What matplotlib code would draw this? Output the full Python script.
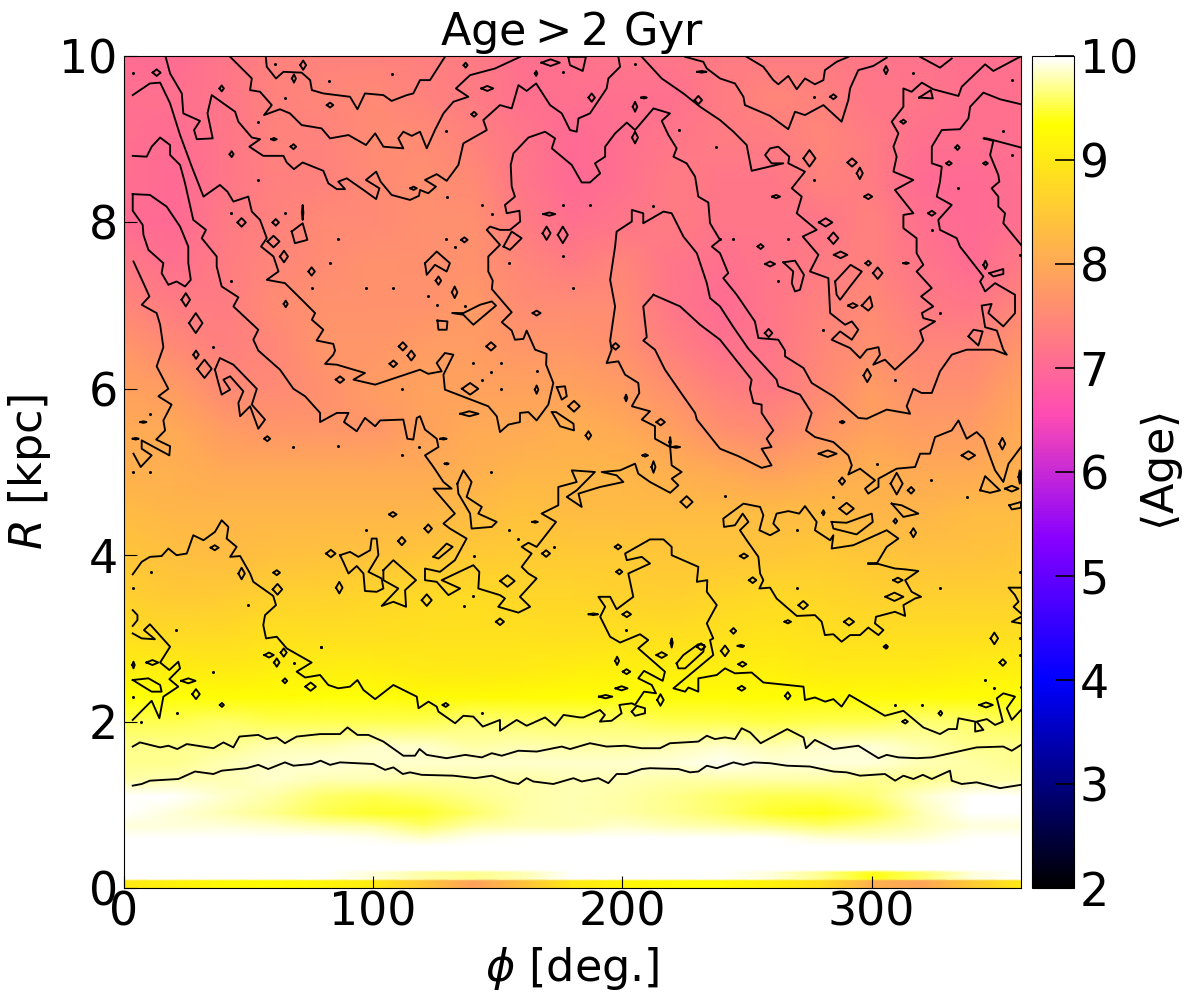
import numpy as np
import matplotlib
matplotlib.use("Agg")
import matplotlib.pyplot as plt

# mean age map
phi_cols = [0, 20, 40, 60, 80, 100, 120, 140, 160, 180, 200, 220, 240, 260, 280, 300, 320, 340, 360]
r_rows = [0, 0.09, 0.11, 0.19, 0.22, 0.5, 0.6, 0.75, 0.9, 1.1, 1.3, 1.5, 1.7, 2.0, 2.3, 2.6,
          3.0, 3.5, 4.0, 4.5, 5.0, 5.5, 6.0, 6.5, 7.0, 7.5, 8.0, 8.5, 9.0, 9.5, 10.0]
age = [
    [9.0, 9.15, 9.25, 9.3, 9.2, 9.05, 8.5, 7.9, 8.4, 9.0, 9.2, 9.25, 9.25, 9.15, 8.9, 8.1, 7.95, 8.5, 9.0],
    [9.0, 9.15, 9.25, 9.3, 9.2, 9.05, 8.5, 7.9, 8.4, 9.0, 9.2, 9.25, 9.25, 9.15, 8.9, 8.1, 7.95, 8.5, 9.0],
    [10, 10, 10, 10, 10, 9.9, 9.75, 9.7, 9.8, 10, 10, 10, 10, 9.9, 9.7, 9.4, 9.6, 9.9, 10],
    [10, 10, 10, 10, 10, 9.9, 9.75, 9.7, 9.8, 10, 10, 10, 10, 9.9, 9.7, 9.4, 9.6, 9.9, 10],
    [10, 10, 10, 10, 10, 10, 10, 10, 10, 10, 10, 10, 10, 10, 10, 10, 10, 10, 10],
    [10, 10, 10, 10, 10, 10, 10, 10, 10, 10, 10, 10, 10, 10, 10, 10, 10, 10, 10],
    [10, 10, 10, 10, 10, 9.95, 9.85, 9.95, 10, 10, 10, 10, 10, 10, 9.9, 9.85, 9.9, 10, 10],
    [9.9, 9.9, 9.9, 9.85, 9.8, 9.75, 9.6, 9.75, 9.8, 9.8, 9.85, 9.8, 9.75, 9.7, 9.6, 9.7, 9.8, 9.9, 9.9],
    [10, 9.9, 9.8, 9.7, 9.55, 9.45, 9.45, 9.6, 9.75, 9.8, 9.75, 9.7, 9.6, 9.45, 9.4, 9.5, 9.8, 10, 10],
    [10, 10, 9.85, 9.75, 9.6, 9.55, 9.6, 9.7, 9.75, 9.8, 9.75, 9.7, 9.6, 9.55, 9.55, 9.65, 9.85, 10, 10],
    [9.75, 9.8, 9.8, 9.85, 9.8, 9.8, 9.75, 9.75, 9.75, 9.8, 9.8, 9.75, 9.75, 9.75, 9.75, 9.7, 9.7, 9.75, 9.75],
    [9.7, 9.7, 9.8, 9.85, 9.9, 9.85, 9.85, 9.85, 9.85, 9.85, 9.85, 9.9, 9.95, 9.9, 9.9, 9.9, 9.8, 9.75, 9.7],
    [9.7, 9.7, 9.7, 9.8, 9.8, 9.85, 9.85, 9.75, 9.8, 9.75, 9.75, 9.8, 9.85, 9.8, 9.85, 9.9, 9.8, 9.7, 9.7],
    [9.55, 9.55, 9.6, 9.55, 9.55, 9.55, 9.55, 9.65, 9.6, 9.6, 9.6, 9.55, 9.55, 9.5, 9.55, 9.55, 9.65, 9.6, 9.55],
    [9.35, 9.35, 9.3, 9.3, 9.35, 9.35, 9.25, 9.25, 9.3, 9.3, 9.35, 9.3, 9.3, 9.3, 9.3, 9.25, 9.3, 9.3, 9.35],
    [9.1, 9.1, 9.05, 9.1, 9.1, 9.1, 9.05, 9.0, 9.05, 9.1, 9.15, 9.1, 9.1, 9.15, 9.05, 9.05, 9.05, 9.1, 9.1],
    [8.85, 8.8, 8.8, 8.9, 8.85, 8.85, 8.9, 8.9, 8.9, 8.85, 8.9, 8.85, 8.9, 8.95, 8.9, 8.85, 8.85, 8.85, 8.85],
    [8.6, 8.5, 8.55, 8.65, 8.65, 8.7, 8.75, 8.8, 8.7, 8.7, 8.65, 8.6, 8.7, 8.75, 8.7, 8.65, 8.6, 8.6, 8.6],
    [8.45, 8.35, 8.3, 8.35, 8.4, 8.4, 8.45, 8.5, 8.55, 8.5, 8.5, 8.45, 8.45, 8.45, 8.5, 8.45, 8.4, 8.4, 8.45],
    [8.3, 8.2, 8.2, 8.2, 8.2, 8.2, 8.2, 8.3, 8.4, 8.3, 8.3, 8.3, 8.3, 8.3, 8.3, 8.2, 8.2, 8.3, 8.3],
    [8.1, 8.1, 8.0, 8.0, 8.0, 8.0, 8.0, 8.1, 8.2, 8.2, 8.2, 8.1, 8.0, 7.9, 8.0, 8.1, 8.0, 8.0, 8.1],
    [8.0, 8.0, 7.8, 7.7, 7.7, 7.7, 7.9, 8.0, 8.0, 8.1, 8.0, 7.85, 7.6, 7.5, 7.7, 7.9, 7.8, 7.8, 8.0],
    [7.9, 7.8, 7.5, 7.5, 7.6, 7.8, 7.9, 7.9, 7.9, 7.9, 7.8, 7.6, 7.35, 7.25, 7.5, 7.8, 7.6, 7.6, 7.9],
    [7.7, 7.5, 7.35, 7.45, 7.7, 7.7, 7.8, 7.8, 7.7, 7.7, 7.6, 7.35, 7.15, 7.2, 7.45, 7.6, 7.45, 7.45, 7.7],
    [7.45, 7.3, 7.3, 7.55, 7.65, 7.65, 7.65, 7.75, 7.55, 7.55, 7.55, 7.2, 7.05, 7.2, 7.4, 7.5, 7.3, 7.2, 7.45],
    [7.25, 7.1, 7.3, 7.45, 7.55, 7.65, 7.6, 7.65, 7.45, 7.3, 7.45, 7.2, 7.1, 7.2, 7.3, 7.4, 7.2, 7.05, 7.25],
    [7.05, 7.0, 7.25, 7.4, 7.5, 7.5, 7.6, 7.6, 7.3, 7.1, 7.2, 7.3, 7.2, 7.2, 7.2, 7.4, 7.1, 7.0, 7.1],
    [7.1, 7.0, 7.2, 7.35, 7.4, 7.5, 7.6, 7.5, 7.2, 7.0, 7.1, 7.3, 7.2, 7.2, 7.4, 7.3, 7.05, 7.0, 7.1],
    [7.1, 7.05, 7.2, 7.4, 7.4, 7.55, 7.55, 7.4, 7.2, 7.0, 7.1, 7.2, 7.3, 7.3, 7.45, 7.3, 7.1, 7.1, 7.1],
    [7.1, 7.1, 7.2, 7.4, 7.45, 7.5, 7.4, 7.3, 7.1, 7.1, 7.1, 7.1, 7.3, 7.45, 7.4, 7.2, 7.2, 7.1, 7.1],
    [7.05, 7.05, 7.2, 7.4, 7.4, 7.4, 7.35, 7.3, 7.1, 7.15, 7.2, 7.2, 7.3, 7.3, 7.3, 7.2, 7.15, 7.1, 7.1],
]

# contour lines as (phi, R)
outer_line = [(3.5,9.53),(10.4,9.67),(14.5,9.68),(18.5,9.43),(22.5,9.05),(27.2,8.67),(31.9,8.31),(38.5,8.45),(41.5,8.37),(43.9,8.25),(49.9,8.31),(51.3,8.13),(54.6,8.03),(57.3,7.81),(55.0,7.71),(60.0,7.59),(62.0,7.41),(57.3,7.31),(64.6,7.27),(70.7,7.09),(76.7,6.91),(75.4,6.83),(80.0,6.71),(77.3,6.58),(84.0,6.54),(84.7,6.46),(84.0,6.41),(80.7,6.30),(85.4,6.29),(96.7,6.19),(92.1,6.11),(100.8,6.05),(118.8,6.23),(122.1,6.18),(127.5,6.21),(125.5,6.31),(128.8,6.43),(132.2,6.41),(128.2,6.17),(128.8,5.99),(137.5,5.89),(146.2,5.79),(149.6,5.67),(150.9,5.48),(154.3,5.57),(158.9,5.60),(158.9,5.71),(162.3,5.72),(165.6,5.62),(170.3,5.81),(172.3,6.07),(169.4,6.29),(169.6,6.42),(165.0,6.47),(161.6,6.70),(160.3,6.60),(156.9,6.59),(155.6,6.70),(151.6,6.80),(155.6,6.92),(147.6,7.20),(148.0,7.30),(146.2,7.41),(146.2,7.59),(150.9,7.73),(145.6,7.91),(146.9,7.95),(150.9,7.91),(154.9,7.91),(159.0,8.01),(158.7,8.14),(153.6,8.11),(152.9,8.21),(156.9,8.31),(155.6,8.43),(155.2,8.69),(156.3,8.83),(162.3,9.02),(169.0,9.09),(173.0,9.01),(171.7,8.89),(179.7,8.69),(183.7,8.48),(187.0,8.48),(191.1,8.59),(189.0,8.71),(193.1,8.79),(193.1,8.91),(197.1,9.07),(201.8,9.20),(205.1,9.11),(212.5,9.37),(219.1,9.31),(215.8,9.22),(218.5,9.05),(221.8,8.89),(220.5,8.79),(225.8,8.71),(229.2,8.55),(230.5,8.31),(234.5,8.24),(235.2,7.99),(239.2,7.79),(235.9,7.71),(239.2,7.63),(242.5,7.39),(240.5,7.33),(245.9,7.13),(253.2,6.81),(254.6,6.61),(262.6,6.59),(265.3,6.46),(265.3,6.39),(272.7,6.25),(276.0,6.07),(284.7,5.91),(294.7,5.65),(298.1,5.64),(306.1,5.75),(315.5,5.70),(314.1,5.79),(316.8,6.00),(320.1,5.95),(324.2,5.95),(327.5,6.21),(332.2,6.41),(338.2,6.47),(349,6.47),(354.3,6.41),(352.9,6.47),(350.3,6.70),(345.6,6.74),(344.2,7.0),(348.2,7.02),(346.9,6.91),(352.9,6.75),(357.6,6.91),(357.6,7.13),(349.6,7.27),(345.6,7.17),(343.6,7.29),(344.9,7.35),(335.5,7.71),(334.2,7.81),(327.5,7.91),(326.8,8.03),(332.2,8.21),(326.2,8.31),(327.5,8.49),(328.2,8.67),(324.2,8.71),(324.2,8.91),(328.2,9.11),(335.5,9.12),(338.9,9.25),(339.6,9.39),(344.9,9.56),(351.6,9.48),(360,9.42)]
mid_line = [(3.5,8.80),(9.1,8.79),(11.1,8.91),(14.5,9.02),(18.5,8.93),(18.5,8.81),(22.5,8.69),(24.5,8.47),(27.8,8.03),(32.9,7.91),(31.2,7.81),(37.2,7.59),(37.2,7.47),(39.2,7.23),(45.9,7.10),(43.9,6.99),(53.9,6.71),(51.9,6.59),(53.9,6.46),(62.6,6.23),(68.0,6.0),(72.7,5.91),(78.7,5.71),(78.7,5.60),(85.4,5.71),(90.1,5.71),(88.3,5.60),(93.4,5.49),(96.7,5.65),(100.8,5.55),(102.8,5.62),(112.1,5.63),(113.7,5.40),(116.1,5.39),(117.5,5.65),(118.8,5.67),(120.8,5.51),(125.5,5.40),(126.2,5.30),(120.8,5.20),(124.2,5.06),(128.2,4.88),(131.5,4.80),(124.2,4.80),(132.8,4.50),(128.2,4.38),(130.8,4.32),(137.5,4.20),(132.8,3.94),(126.8,3.80),(120.8,3.84),(120.8,3.70),(125.5,3.68),(130.2,3.52),(134.9,3.60),(127.5,3.70),(140.2,3.88),(142.6,3.80),(142.2,3.60),(150.9,3.52),(152.9,3.48),(150.2,3.38),(158.3,3.31),(163.0,3.38),(158.9,3.50),(165.6,3.72),(162.3,3.78),(159.6,3.86),(163.6,4.02),(159.6,4.10),(162.3,4.15),(165.6,4.10),(173.4,4.40),(167.6,4.50),(174.3,4.60),(174.3,4.82),(181.7,4.88),(179.7,5.02),(189.0,5.0),(181.7,4.78),(177.7,4.70),(183.7,4.58),(182.4,4.74),(191.1,4.82),(200.4,4.88),(197.7,4.96),(191.7,5.0),(199.1,5.02),(205.1,5.10),(206.4,4.98),(211.1,4.88),(219.2,4.75),(222.5,4.84),(219.8,4.92),(223.8,5.0),(219.8,5.08),(219.2,5.30),(213.1,5.40),(213.1,5.55),(207.8,5.63),(211.1,5.73),(203.8,5.79),(206.8,5.95),(206.4,6.07),(201.1,6.17),(198.4,6.33),(193.7,6.31),(195.7,6.47),(195.1,6.58),(197.1,6.99),(195.1,7.31),(197.1,7.71),(197.7,7.89),(203.8,8.01),(203.8,8.15),(208.4,8.11),(208.4,7.99),(216.5,8.13),(219.8,8.11),(224.5,7.83),(229.9,7.63),(233.9,7.27),(235.2,7.09),(239.2,6.99),(244.6,6.74),(250.6,6.48),(261.9,6.11),(262.6,6.03),(271.3,5.93),(276.0,5.71),(273.7,5.50),(277.3,5.42),(284.7,5.36),(290.7,5.20),(292.1,5.08),(290.7,4.97),(295.4,5.04),(301.4,4.90),(297.4,4.80),(298.7,4.74),(302.8,4.82),(302.8,4.92),(310.1,5.04),(317.5,5.06),(319.5,5.22),(323.5,5.22),(325.5,5.42),(332.2,5.50),(334.9,5.62),(338.2,5.40),(342.2,5.48),(344.9,5.40),(349.6,5.02),(352.9,4.88),(355.0,5.10),(360,5.30)]
top_line_a = [(16.7,9.99),(18.5,9.79),(23.2,9.55),(23.8,9.31),(30.5,9.22),(28.1,9.11),(29.2,9.0),(35.6,9.01),(33.5,9.31),(35.2,9.53),(44.6,9.33),(45.9,9.21),(51.3,9.02),(54.6,9.0),(50.3,8.91),(55.9,8.80),(64.0,8.80),(65.3,8.72),(68.2,8.64),(71.7,8.72),(80.0,8.62),(82.0,8.47),(85.4,8.40),(88.7,8.40),(86.0,8.49),(89.4,8.53),(96.1,8.39),(101.2,8.28),(102.5,8.41),(97.1,8.51),(101.2,8.61),(103.0,8.49),(107.4,8.33),(114.8,8.27),(118.4,8.32),(118.8,8.39),(122.1,8.35),(125.2,8.43),(120.8,8.51),(125.5,8.58),(129.5,8.50),(134.2,8.69),(136.2,8.95),(145.6,9.11),(144.2,9.23),(150.9,9.41),(155.6,9.37),(158.3,9.65),(161.6,9.58),(165.4,9.67),(171.0,9.41),(175.7,9.31),(179.0,9.11),(181.7,9.09),(182.4,9.25),(187.0,9.31),(193.7,9.61),(194.4,9.73),(199.1,9.87),(198.4,9.99)]
top_line_b = [(42.6,9.99),(51.3,9.73),(50.6,9.59),(54.6,9.57),(59.3,9.41),(56.2,9.29),(62.6,9.36),(66.6,9.31),(71.3,9.17),(79.3,9.13),(82.7,9.01),(90.1,9.05),(97.1,8.93),(100.8,9.07),(104.1,8.91),(112.1,8.89),(110.1,9.01),(112.1,9.09),(115.5,9.04),(118.8,9.09),(121.5,8.89),(124.8,9.11),(128.2,9.31),(132.2,9.45),(138.2,9.51),(133.2,9.61),(138.9,9.77),(148.9,9.85),(159,9.99)]
top_line_c = [(56.9,9.99),(57.3,9.87),(61.0,9.73),(64.0,9.81),(71.3,9.80),(74.7,9.71),(75.4,9.59),(80.0,9.55),(90.7,9.51),(93.7,9.36),(96.7,9.55),(104.1,9.53),(107.4,9.46),(113.5,9.53),(116.1,9.55),(118.8,9.71),(122.8,9.71),(128.8,9.99)]
top_line_d = [(225.2,9.99),(232.5,9.93),(233.9,9.85),(239.2,9.73),(245.2,9.67),(248.6,9.51),(249.2,9.41),(259.3,9.28),(266.6,9.12),(269.3,9.33),(273.3,9.29),(280.7,9.41),(288.0,9.21),(290.7,9.47),(291.4,9.61),(294.7,9.83),(300.7,9.88),(306.1,9.98)]
top_line_e = [(249.9,9.99),(256.6,9.87),(260.6,9.71),(262.6,9.66),(266.6,9.76),(270.0,9.60),(273.3,9.73),(277.3,9.66),(280.7,9.71),(281.3,9.83),(286.0,9.93),(290.7,9.99)]
top_line_f = [(319.5,9.99),(327.5,9.86),(332.2,9.97)]
center_line = [(207.8,9.99),(215.8,9.73),(224.5,9.55),(231.2,9.39),(239.2,9.23),(244.6,9.09),(249.9,8.93),(251.9,8.62),(264.6,8.71),(259.9,8.71),(257.3,8.81),(259.3,8.89),(262.6,8.91),(267.0,8.79),(266.6,8.71),(273.3,8.61),(268.0,8.41),(272.0,8.31),(270.0,8.11),(278.0,7.91),(272.4,7.83),(278.7,7.61),(275.3,7.41),(282.7,7.33),(283.4,6.91),(289.4,6.77),(292.1,6.81),(294.7,6.71),(292.1,6.59),(287.4,6.69),(284.0,6.59),(291.4,6.49),(295.4,6.37),(298.1,6.47),(302.8,6.50),(303.4,6.41),(300.7,6.29),(305.4,6.35),(309.4,6.23),(318.1,6.47),(320.8,6.58),(319.5,6.70),(325.5,6.81),(320.8,6.85),(320.2,6.91),(324.8,6.99),(319.9,7.11),(324.2,7.21),(318.1,7.41),(320.8,7.49),(318.1,7.63),(318.1,7.81),(312.8,7.93),(312.8,8.09),(316.8,8.11),(309.4,8.39),(316.8,8.51),(308.8,8.61),(310.1,8.79),(308.8,8.91),(310.8,9.07),(308.1,9.21),(312.8,9.39),(312.8,9.61),(316.1,9.57),(320.2,9.68),(324.8,9.60),(334.9,9.52),(336.2,9.63),(345.6,9.90),(348.9,9.82),(359.6,9.99)]
right_line = [(360,8.90),(346.2,9.01),(344.9,9.01),(348.9,8.98),(347.6,8.81),(350.9,8.57),(351.3,8.49),(348.2,8.41),(350.9,8.31),(350.9,8.19),(353.6,8.11),(352.9,7.99),(360,7.73)]
left_line = [(3.8,7.53),(7.8,7.27),(10.2,7.11),(7.1,7.01),(13.1,6.91),(14.5,6.77),(15.8,6.50),(13.1,6.27),(17.8,6.0),(13.8,5.91),(19.1,5.81),(15.8,5.62),(16.5,5.50),(12.9,5.39),(18.5,5.31),(18.2,5.20),(7.1,5.38),(7.1,5.28),(11.1,5.20),(6.7,5.06),(3.8,5.22)]
lower_line = [(3.5,3.77),(7.1,3.92),(10.4,3.98),(15.1,3.99),(17.8,4.08),(21.1,4.0),(25.2,4.02),(27.8,4.24),(31.9,4.18),(36.5,4.28),(39.2,4.42),(41.9,4.34),(41.2,4.20),(45.2,4.10),(42.6,3.98),(46.6,3.99),(50.6,3.78),(51.9,3.68),(59.9,3.51),(61.0,3.40),(56.6,3.28),(55.9,3.16),(57.0,3.0),(61.3,3.02),(65.3,2.88),(75.3,2.71),(69.3,2.60),(72.7,2.53),(78.7,2.56),(82.0,2.44),(86.0,2.40),(90.7,2.42),(93.7,2.50),(96.1,2.38),(100.8,2.27),(108.1,2.44),(117.5,2.30),(118.2,2.16),(122.2,2.24),(125.5,2.18),(126.2,2.12),(132.9,1.98),(136.2,2.07),(140.2,2.06),(144.0,1.94),(150.9,2.02),(150.9,1.89),(157.6,2.02),(161.6,1.95),(169.0,2.05),(173.0,1.95),(176.4,2.08),(183.0,2.05),(184.4,2.05),(191.0,2.14),(193.0,2.08),(191.0,2.0),(195.7,2.01),(199.7,2.10),(198.8,2.20),(203.8,2.22),(205.1,2.20),(208.7,2.36),(213.5,2.34),(211.8,2.44),(206.4,2.52),(208.7,2.61),(216.2,2.49),(217.1,2.60),(206.4,2.88),(210.4,2.98),(207.1,3.05),(199.1,2.95),(195.1,3.02),(191.1,3.26),(193.1,3.38),(190.4,3.50),(195.1,3.50),(197.7,3.35),(204.4,3.50),(202.4,3.78),(211.1,3.90),(207.8,3.98),(201.8,3.94),(201.1,4.02),(211.1,4.19),(216.5,4.19),(219.8,4.10),(219.8,4.0),(230.5,3.86),(229.9,3.68),(234.1,3.70),(233.9,3.56),(237.9,3.40),(233.9,3.18),(236.5,3.0),(235.2,2.98),(236.5,2.80),(220.5,2.40),(225.2,2.36),(226.5,2.41),(230.5,2.36),(230.5,2.52),(237.9,2.56),(241.2,2.64),(245.2,2.58),(251.9,2.59),(256.6,2.47),(272.7,2.42),(273.3,2.26),(277.3,2.29),(281.4,2.24),(284.7,2.27),(288.0,2.18),(291.1,2.32),(305.4,2.07),(312.8,2.13),(320.8,1.93),(327.5,1.85),(330.9,1.91),(334.2,1.91),(334.9,2.04),(341.6,2.0),(341.6,1.88),(344.9,1.90),(342.2,2.0),(346.3,2.03),(349.6,1.96),(352.7,2.0),(350.3,2.28),(352.9,2.34),(357.6,2.30),(354.3,2.16),(356.3,2.02),(360,2.14)]
edge_line_a = [(360,3.61),(355,3.61),(357.6,3.52),(359,3.44),(357,3.38),(360,3.30)]
edge_line_b = [(360,3.26),(356.3,3.20),(360,3.18)]
edge_line_c = [(3.5,3.34),(5.4,3.28),(5.4,3.22),(3.5,3.15)]
corner_line = [(3.5,3.06),(7.1,3.0),(12.4,2.99),(8.0,3.10),(10.4,3.17),(18.5,2.90),(14.5,2.71),(18.2,2.62),(21.8,2.72),(22.5,2.64),(18.2,2.51),(21.8,2.42),(15.8,2.30),(14.2,2.04),(11.1,2.25),(3.5,2.02)]
ring_upper = [(3.5,1.70),(6.4,1.75),(14.5,1.69),(17.8,1.71),(21.4,1.67),(25.2,1.73),(35.9,1.68),(39.9,1.75),(43.9,1.69),(46.3,1.82),(53.9,1.84),(57.3,1.79),(61.3,1.81),(64.6,1.74),(69.3,1.82),(78.7,1.85),(86.7,1.85),(89.7,1.93),(93.7,1.84),(98.1,1.84),(104.1,1.76),(112.1,1.59),(116.8,1.59),(118.6,1.67),(121.5,1.60),(129.5,1.56),(136.9,1.60),(143.6,1.57),(147.6,1.62),(151.6,1.59),(158.3,1.65),(165.7,1.64),(175.7,1.70),(179.0,1.67),(187.0,1.74),(193.7,1.70),(201.1,1.71),(207.8,1.68),(215.1,1.68),(219.1,1.74),(230.5,1.76),(233.9,1.83),(237.2,1.79),(241.2,1.81),(245.2,1.79),(247.9,1.92),(251.3,1.87),(255.5,1.74),(266.2,1.91),(272.7,1.81),(273.7,1.68),(277.3,1.78),(284.7,1.67),(294.7,1.71),(302.8,1.56),(306.1,1.60),(310.8,1.57),(318.2,1.56),(324.2,1.57),(330.2,1.61),(342.2,1.69),(352.9,1.70),(356.3,1.65),(360,1.72)]
ring_lower = [(3.5,1.23),(7.1,1.25),(10.4,1.29),(21.8,1.31),(28.5,1.40),(35.9,1.37),(39.2,1.41),(49.2,1.44),(53.9,1.48),(57.9,1.43),(64.6,1.51),(68.0,1.47),(75.3,1.49),(78.9,1.53),(82.7,1.48),(86.7,1.51),(100.1,1.49),(104.8,1.42),(108.1,1.45),(111.9,1.37),(114.8,1.39),(119.5,1.36),(132.2,1.35),(140.9,1.32),(147.6,1.35),(155.0,1.27),(158.3,1.25),(161.6,1.32),(164.3,1.28),(172.3,1.25),(180.4,1.32),(183.7,1.28),(190.4,1.32),(194.4,1.26),(197.7,1.37),(201.7,1.37),(207.8,1.43),(211.1,1.44),(222.5,1.43),(227.2,1.39),(230.5,1.40),(233.9,1.47),(237.9,1.44),(244.6,1.51),(248.6,1.48),(252.6,1.51),(259.3,1.50),(266.0,1.47),(275.3,1.46),(284.7,1.40),(290.1,1.39),(295.4,1.35),(305.4,1.37),(309.5,1.29),(312.8,1.35),(316.8,1.31),(320.6,1.36),(324.2,1.31),(331.5,1.41),(332.2,1.29),(336.2,1.25),(342.2,1.27),(351.6,1.20),(360,1.24)]
open_lines = [outer_line, mid_line, top_line_a, top_line_b, top_line_c, top_line_d, top_line_e, top_line_f,
              center_line, right_line, left_line, lower_line, edge_line_a, edge_line_b, edge_line_c,
              corner_line, ring_upper, ring_lower]

# closed contours
inner_arm = [(212.5,7.13),(223.2,6.99),(231.2,6.77),(239.2,6.59),(251.9,6.11),(251.2,6.0),(252.6,5.83),(255.9,5.81),(255.9,5.71),(260.6,5.50),(257.9,5.40),(259.9,5.30),(255.9,5.28),(257.9,5.18),(259.9,5.08),(255.9,5.05),(246.6,5.19),(239.2,5.28),(229.9,5.63),(229.2,5.71),(224.5,5.91),(217.1,6.23),(213.1,6.47),(208.4,6.58),(209.8,6.62),(208.4,6.99)]
left_arm = [(3.5,8.34),(10.4,8.33),(17.1,8.19),(22.5,7.95),(25.8,7.71),(25.8,7.51),(26.8,7.31),(24.5,7.23),(21.1,7.29),(17.8,7.25),(15.1,7.39),(15.8,7.51),(9.8,7.67),(7.8,7.85),(7.5,7.97),(3.5,8.14)]
lower_loop = [(298.7,3.90),(302.1,3.90),(306.1,4.10),(310.8,4.20),(306.1,4.30),(292.7,4.12),(284.0,4.08),(284.7,4.24),(283.4,4.18),(277.3,4.30),(278.0,4.40),(273.3,4.59),(271.0,4.50),(266.6,4.53),(261.9,4.50),(260.6,4.38),(263.0,4.30),(259.3,4.24),(255.0,4.30),(256.6,4.48),(255.3,4.58),(248.6,4.62),(240.5,4.44),(240.8,4.34),(245.2,4.36),(248.3,4.50),(250.6,4.40),(247.2,4.30),(249.9,4.18),(254.6,3.98),(255.3,3.78),(256.6,3.70),(255.0,3.60),(259.3,3.61),(261.9,3.48),(270.0,3.27),(277.3,3.28),(280.0,3.20),(281.3,3.04),(284.7,3.05),(288.0,2.96),(291.4,3.04),(295.4,3.04),(298.7,3.13),(302.8,3.04),(304.8,3.10),(301.4,3.18),(301.8,3.26),(309.4,3.32),(313.5,3.27),(312.8,3.40),(317.5,3.48),(319.9,3.50),(316.1,3.56),(313.5,3.70),(318.8,3.81),(313.5,3.83),(309.4,3.84),(302.1,3.90)]
blob_a = [(67.3,7.89),(71.7,7.99),(73.6,7.79),(68.6,7.75)]
blob_b = [(178.3,9.99),(185.4,9.99),(184.1,9.82),(179,9.89)]
blob_c = [(152.3,7.71),(155.6,7.89),(159.6,7.81),(154.9,7.67)]
blob_d = [(120.8,7.51),(125.5,7.65),(130.8,7.51),(129.5,7.41),(124.8,7.49),(121.5,7.37)]
blob_e = [(131.9,6.91),(136.2,6.91),(142.9,7.01),(147.6,7.05),(149.3,7.0),(140.2,6.77),(136.2,6.89)]
blob_f = [(125.8,6.82),(129.8,6.81),(129.5,6.71),(126.2,6.71)]
blob_g = [(264.6,7.52),(269.3,7.54),(272.9,7.37),(271.3,7.19),(269.3,7.17),(268,7.27),(268.6,7.41)]
blob_h = [(285.4,7.29),(291.6,7.49),(296.1,7.41),(291.4,7.23),(287.4,7.07),(286,7.13)]
blob_i = [(296.1,7.0),(299.4,7.11),(300.4,6.99),(298.7,6.94)]
blob_j = [(319.1,9.50),(323.8,9.59),(324.6,9.49)]
blob_k = [(347.3,7.39),(352.9,7.44),(352.9,7.38),(348.9,7.35)]
blob_l = [(338.9,6.63),(340.9,6.71),(344.6,6.69),(342.9,6.52)]
blob_m = [(36.5,6.23),(38.5,6.37),(43.9,6.29),(53.3,6.0),(51.3,5.81),(56.6,5.63),(53.9,5.52),(50.6,5.79),(46.6,5.67),(45.9,5.83),(47.9,5.97),(42.6,6.15),(39.9,6.11),(42.6,5.99),(39.2,5.93),(37.9,6.07)]
blob_n = [(86.7,4.0),(90.7,4.04),(94.1,3.98),(98.8,4.06),(99.4,4.20),(101.4,4.20),(102.1,4.0),(98.1,3.80),(103.4,3.72),(104.1,3.60),(101.4,3.56),(96.7,3.57),(96.1,3.78),(93.4,3.87),(90.1,3.78),(88.0,3.92)]
blob_o = [(104.1,3.82),(108.1,3.94),(117.2,3.70),(112.8,3.58),(113.2,3.38),(108.1,3.44),(103.4,3.39),(110.1,3.60),(104.1,3.70)]
blob_p = [(171.7,5.72),(173.4,5.72),(180.4,5.58),(180.6,5.50),(175.0,5.55)]
blob_q = [(173.7,6.02),(177,6.03),(177.7,5.91),(175.7,5.87)]
blob_r = [(133.8,4.86),(136.2,5.02),(139.5,4.88),(137.5,4.70),(143.6,4.58),(142.2,4.50),(149.6,4.40),(147.6,4.34),(139.5,4.32),(138.9,4.50),(134.2,4.74)]
blob_s = [(124.2,3.98),(129.5,4.14),(131.9,4.10),(126.2,3.96)]
blob_t = [(284,4.40),(290,4.39),(300.1,4.50),(300.5,4.40),(294,4.25),(284.7,4.32)]
blob_u = [(308.1,4.62),(312.1,4.60),(318.8,4.50),(312.8,4.46)]
blob_v = [(343.6,4.78),(345.6,4.95),(351.6,4.78),(347.6,4.75)]
blob_w = [(355.3,4.60),(360,4.64),(360,4.57),(356.3,4.55)]
blob_x = [(3.5,2.50),(9.8,2.52),(14.5,2.44),(15.1,2.36),(11.1,2.36),(7.8,2.42)]
blob_y = [(221.8,2.70),(224.5,2.80),(230.5,2.93),(232.9,2.92),(232.5,2.84),(225.2,2.64),(222.5,2.64)]
blob_z = [(203.8,2.12),(205.8,2.19),(209.1,2.16),(209.1,2.10),(205.1,2.07)]
closed_lines = [inner_arm, left_arm, lower_loop, blob_a, blob_b, blob_c, blob_d, blob_e, blob_f, blob_g, blob_h,
                blob_i, blob_j, blob_k, blob_l, blob_m, blob_n, blob_o, blob_p, blob_q, blob_r, blob_s, blob_t,
                blob_u, blob_v, blob_w, blob_x, blob_y, blob_z]

# tiny contour islands as phi, R, half width in phi, half height in R
islands = [(13.1,9.80,1.6,.04),(71.9,9.89,1.2,.056),(68.2,9.73,.8,.05),(82.7,9.41,1.3,.03),(39.2,9.61,.9,.036),(68.0,8.91,1.1,.03),(43.2,8.82,.8,.036),(60.2,9.0,1.1,.015),(47.2,8.0,1.7,.052),(60.9,8.0,1.3,.04),(64.2,7.59,1.6,.07),(75.3,7.41,1.3,.05),(24.8,7.07,1.7,.08),(28.8,6.79,2.7,.12),(64.9,7.02,.8,.04),(111.9,6.51,1.6,.05),(60,7.77,2.4,.07),(116.2,8.41,1.3,.02),(71.7,8.12,.3,.09),
           (171.2,9.92,3.7,.04),(145.8,9.61,2.4,.03),(187.7,9.50,1.3,.05),(140.5,9.30,1.1,.03),(205.1,9.02,1.2,.07),(170.7,8.10,2.4,.02),(169.6,7.87,1.6,.08),(176.1,7.85,2.0,.10),(126.2,7.30,1.1,.05),(132.7,7.16,1.1,.07),(147.3,6.51,1.9,.05),(165.6,6.91,1.6,.03),(197.3,6.51,1.5,.04),(136.6,7.79,1.3,.03),(230.5,9.47,1.5,.05),(205.1,9.39,.9,.06),(208.7,9.50,1.1,.01),(231.9,9.81,1.9,.01),(165.4,9.79,.5,.03),(137.1,9.89,.8,.03),
           (275.1,8.77,2.4,.10),(292.2,8.72,1.9,.05),(295.3,8.59,1.2,.07),(298.7,8.31,1.6,.03),(281.6,8.0,2.7,.05),(284.7,7.81,2.0,.07),(287.6,7.61,2.7,.04),(259.3,7.50,2.0,.03),(302.5,7.39,1.9,.07),(292.5,7.0,1.9,.03),(258.7,6.67,1.5,.05),(313.9,7.51,1.1,.01),(324.2,8.11,1.5,.03),(345.7,7.49,.8,.05),(305.8,9.83,.8,.05),(312.8,9.21,1.1,.025),(284.7,9.51,1.3,.03),(334.5,8.90,.9,.03),(331.1,8.71,1.1,.025),(345.8,8.71,.9,.02),(261.7,8.31,1.6,.02),(255.5,7.71,1.2,.03),(298.7,7.51,1.1,.03),
           (32.3,6.24,2.9,.11),(28.9,6.41,1.1,.05),(86.7,6.11,1.7,.04),(83.0,4.02,1.9,.045),(86.4,3.61,1.3,.07),(61.6,3.59,1.9,.065),(47.2,3.78,1.3,.07),(36.4,4.09,1.6,.03),(107.9,4.49,1.5,.03),(111.5,4.17,1.5,.05),(61.3,3.79,1.3,.03),(108.1,6.30,1.5,.04),(115.3,6.40,1.5,.06),(57.5,5.40,1.2,.03),(7.8,5.60,1.2,.01),(4.7,5.40,1.2,.01),
           (138.9,6.0,3.3,.07),(138.6,5.70,3.7,.03),(180.6,5.79,2.3,.065),(186.4,5.44,1.1,.05),(122.1,4.32,1.5,.05),(121.5,3.46,2.0,.07),(153.9,3.69,2.9,.07),(169.4,4.02,1.6,.04),(150.9,3.20,1.6,.04),(201.8,3.29,1.7,.035),(198.3,4.10,1.3,.03),(198.8,3.80,1.2,.03),(225.8,4.64,2.4,.07),(212.5,5.06,.8,.07),(215.4,5.60,1.7,.04),(165,4.40,1.1,.01),(188.4,3.29,1.9,.01),(219.2,5.36,.3,.06),(221.6,5.30,1.6,.01),(219.8,2.96,.3,.04),(231.6,2.90,1.7,.04),(165.6,5.99,.7,.05),(201.5,5.89,.5,.04),(128.2,5.40,1.3,.01),(209.2,5.20,1.1,.015),(129.5,5.10,.8,.01),
           (282.4,5.22,3.6,.04),(288.2,4.89,1.2,.045),(310.1,4.86,2.4,.13),(315.9,4.78,1.3,.04),(290.0,4.56,2.9,.07),(316.8,4.27,1.1,.055),(356.3,4.80,2.7,.035),(338.9,5.20,2.7,.05),(352.5,5.34,1.2,.07),(359.5,4.94,.5,.08),(298.3,6.16,1.5,.08),(309.2,3.50,3.6,.05),(272.6,3.40,1.9,.05),(310.6,3.70,1.9,.03),(291,3.20,2.0,.045),(248.8,3.99,1.6,.03),(252.3,3.70,1.5,.035),(266.4,3.20,1.3,.02),(244.6,3.09,1.1,.035),(349.3,3.0,1.5,.07),(288.3,5.60,.9,.015),(280.7,4.51,.5,.03),(309.6,4.41,.7,.03),
           (11.4,2.71,2.4,.03),(25.8,2.49,2.9,.03),(28.9,2.33,1.5,.06),(58.2,2.80,1.9,.03),(64.1,2.83,1.2,.05),(61.3,2.71,1.1,.05),(74.9,2.42,2.1,.05),(64.6,2.49,.9,.03),(3.8,2.68,.5,.04),(39.3,2.20,.8,.024),(129.1,2.20,1.2,.024),
           (199.7,2.40,2.4,.025),(193.3,2.30,2.7,.02),(197.9,2.73,.8,.05),(201.7,2.60,1.5,.03),(215.8,2.80,2.1,.035),(241.2,2.85,1.6,.065),(248.2,2.69,1.6,.03),(247.9,2.40,1.5,.03),(266.4,2.31,1.1,.045),(215.3,2.26,1.3,.07),(346,2.20,2.7,.03),(352.7,2.71,1.3,.04),(327.7,2.10,.7,.03),(313.5,2.0,1.1,.024),(247.6,2.91,1.3,.012),(219.8,2.94,.4,.05),(305.8,2.90,.8,.024)]

# single-cell spots
dot_phi = [3.8,60.8,64.6,107.7,53.7,53.7,43.0,64.6,86.0,82.7,43.0,75.3,97.0,107.8,35.6,82.4,
           176.3,205.1,129.2,222.9,237.5,129.5,143.8,147.6,176.3,187.0,212.2,129.2,132.8,176.3,154.5,180.0,122.1,125.8,136.7,
           277.1,316.8,356.3,352.7,356.3,277.1,334.9,324.2,244.6,239.2,266.4,262.6,280.7,327.5,359.6,
           111.5,10.4,68,86,118.4,111.5,10.4,3.8,10.7,3.5,49.9,97,20.9,78.9,
           140.2,151.2,147.3,143.8,151.2,165.6,147.4,154.4,158.3,172.6,140.6,140.2,136.6,201.5,
           309.4,302.4,323.9,241.2,284.4,338.5,270,270,327.5,359.6,359.6,305.8,247.9,
           79.1,68.1,21.4,6.7,3.5,35.6,143.7,309.6,320.2,345.6,349.2,359.6,359.9]
dot_r = [9.80,9.90,9.49,9.78,9.21,8.51,8.11,8.11,7.80,7.51,7.30,7.21,7.21,7.21,6.50,9.70,
         9.81,9.90,9.10,9.11,8.91,8.31,8.21,8.10,8.21,8.21,8.20,7.80,7.70,7.60,7.51,7.21,7.11,7.01,6.99,
         9.51,9.80,9.71,9.10,8.81,8.51,8.41,7.91,7.80,7.80,7.80,7.29,6.71,6.91,7.61,
         6.0,5.70,5.30,5.31,5.30,5.20,5.0,5.0,3.80,3.6,3.40,4.30,3.10,2.90,
         6.31,6.31,6.20,6.11,6.0,6.21,5.0,4.30,4.19,4.10,3.99,3.51,3.39,3.10,
         6.11,5.10,4.90,4.71,4.70,4.70,4.30,3.60,3.60,3.80,3.0,2.90,2.91,
         2.90,2.70,2.10,2.0,2.29,2.60,2.10,2.20,2.20,2.50,2.40,2.80,2.41]

phi_ticks = [0, 100, 200, 300]
r_ticks = [0, 2, 4, 6, 8, 10]
bar_ticks = [2, 3, 4, 5, 6, 7, 8, 9, 10]

W, H = 1196, 999
fig = plt.figure(figsize=(W / 100, H / 100), dpi=100)
ax = fig.add_axes([124 / W, 1 - 888 / H, 897 / W, 832 / H])
cax = fig.add_axes([1032 / W, 1 - 888 / H, 42 / W, 832 / H])

mesh = ax.pcolormesh(phi_cols, r_rows, np.array(age), cmap="gnuplot2", vmin=2, vmax=10,
                     shading="gouraud", rasterized=True)

for line in open_lines:
    pts = np.array(line)
    ax.plot(pts[:, 0], pts[:, 1], color="k", lw=1.35)
for line in closed_lines:
    pts = np.array(line + line[:1])
    ax.plot(pts[:, 0], pts[:, 1], color="k", lw=1.35)
for p, r, dp, dr in islands:
    ax.plot([p - dp, p, p + dp, p, p - dp], [r, r + dr, r, r - dr, r], color="k", lw=1.35)
ax.plot(dot_phi, dot_r, ls="none", marker="o", ms=2.2, color="k", mew=0)

ax.set_xlim(0, 360)
ax.set_ylim(0, 10)
ax.set_xticks(phi_ticks)
ax.set_yticks(r_ticks)
ax.tick_params(direction="in", length=9, width=0.8, labelsize=33)
ax.tick_params(axis="x", pad=1.5)
ax.tick_params(axis="y", pad=4.5)
ax.set_xlabel(r"$\phi$ [deg.]", fontsize=32, labelpad=7)
ax.set_ylabel(r"$R$ [kpc]", fontsize=32, labelpad=5)
ax.set_title(r"Age$>$2 Gyr", fontsize=32, pad=5)

cb = fig.colorbar(mesh, cax=cax)
cb.set_ticks(bar_ticks)
cb.ax.tick_params(direction="in", length=14, width=1.2, labelsize=33, pad=4)
cb.set_label(r"$\langle$Age$\rangle$", fontsize=32, labelpad=0)

fig.savefig("out.png", dpi=100)
